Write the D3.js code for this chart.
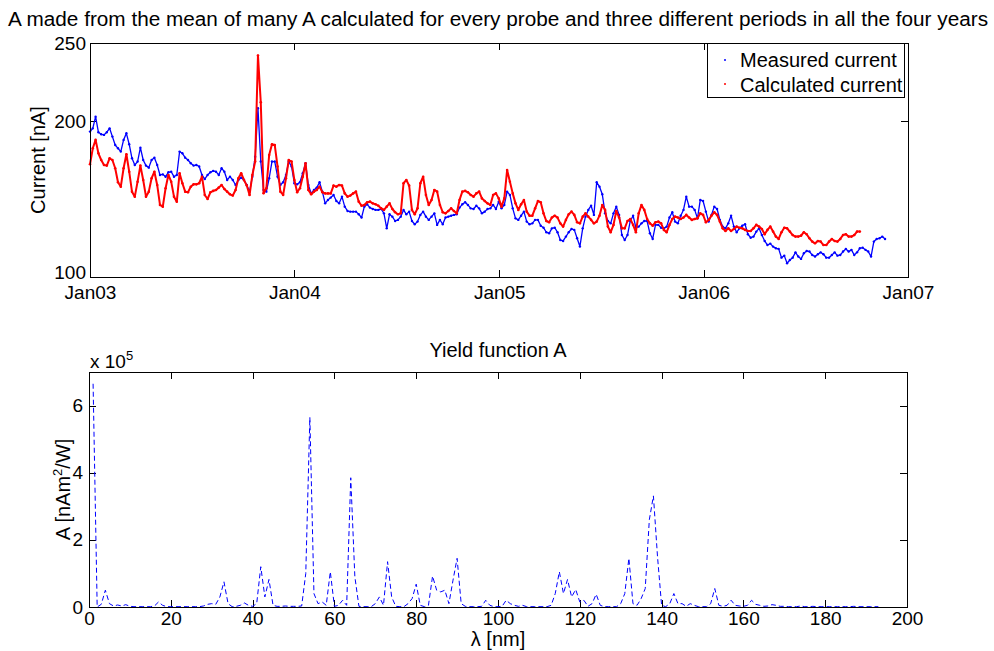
<!DOCTYPE html>
<html><head><meta charset="utf-8">
<script src="https://cdn.jsdelivr.net/npm/d3@7"></script>
<style>
body{margin:0;background:#fff}
text{font-family:"Liberation Sans",Arial,Helvetica,sans-serif;fill:#000}
</style>
</head><body>
<svg id="chart" width="994" height="651"></svg>
<script>
// ---------------- data ----------------
const titleText = "A made from the mean of many A calculated for every probe and three different periods in all the four years";
const seriesNames = ["Measured current", "Calculated current"];
const startDate = "2003-01-01";
const dayStep = 5; // one value every 5 days
const measured = [
193.2,195.3,202.8,192.8,191.5,191.1,192.8,195.3,190.0,184.6,
182.5,180.4,187.9,192.1,185.1,176.1,171.8,174.0,182.9,175.0,
171.4,170.1,175.0,176.5,171.8,165.4,165.8,164.3,167.1,167.5,
164.3,165.4,180.4,179.3,176.5,175.0,172.9,171.4,171.8,170.8,
165.4,162.8,165.4,167.1,168.0,167.5,165.4,169.7,167.5,162.2,
164.3,162.2,159.0,162.2,163.7,162.2,159.0,154.7,164.3,177.1,
208.2,174.0,155.8,154.7,163.3,174.0,174.0,164.3,159.0,160.7,
165.4,174.0,170.8,160.1,159.4,160.7,166.5,172.9,159.0,153.6,
155.8,157.3,160.7,154.7,147.2,149.4,150.9,152.6,148.7,147.2,
151.5,145.1,142.3,141.9,141.9,141.9,140.2,138.1,145.1,146.6,
144.5,143.6,143.0,143.0,143.6,140.8,131.2,140.2,138.7,135.9,
136.6,138.7,143.0,140.2,141.9,135.9,133.8,135.5,139.8,141.9,
138.7,136.6,138.7,140.8,133.4,136.6,133.8,138.1,138.7,139.3,
139.8,140.2,144.5,146.6,147.9,146.2,144.0,143.6,145.7,144.0,
140.8,141.9,143.6,144.0,146.2,143.6,148.3,144.0,146.2,154.7,
152.6,144.0,137.6,136.6,139.3,141.9,135.5,133.8,134.4,136.6,
136.6,132.9,131.6,128.7,128.0,131.2,131.6,128.7,123.7,123.1,
125.9,128.7,130.8,130.2,124.8,119.5,131.2,138.7,143.0,145.7,
139.8,160.7,157.9,153.0,140.8,135.9,134.4,140.8,145.1,139.8,
126.9,123.7,126.9,135.9,139.3,131.6,132.3,134.4,135.9,135.9,
128.0,124.4,133.4,133.4,131.6,131.2,132.3,138.1,141.5,135.5,
134.4,139.3,143.0,151.5,145.1,145.1,143.0,137.6,149.4,148.7,
141.9,135.5,139.8,145.1,143.6,136.6,132.3,131.2,134.4,139.3,
132.3,128.7,131.2,132.9,133.8,127.4,125.2,125.9,129.1,131.2,
126.9,123.1,120.5,121.4,119.5,118.4,118.0,112.4,113.7,108.8,
110.9,112.4,115.8,113.1,111.6,115.2,116.7,116.3,114.1,113.1,
114.6,115.8,114.6,112.4,112.4,114.1,115.8,113.7,114.1,116.3,
118.0,116.3,117.4,114.1,115.8,118.4,118.8,117.4,116.3,113.1,
122.7,124.4,124.8,125.9,124.4
];
const calculated = [
172.3,182.5,187.9,179.3,175.0,171.8,171.4,176.1,175.0,169.7,
160.7,157.9,169.7,178.7,167.5,154.7,151.5,161.1,171.4,162.2,
151.5,154.7,163.3,167.5,159.0,146.2,145.1,156.9,165.4,161.1,
151.5,148.3,166.5,160.1,154.7,154.3,157.9,159.4,159.4,160.1,
164.3,152.6,150.0,154.3,155.2,155.8,157.3,159.0,156.4,154.7,
153.0,152.2,155.8,163.3,166.5,162.2,158.6,152.6,165.4,174.0,
242.0,212.0,153.7,156.9,178.2,185.1,184.6,170.8,154.7,152.6,
163.3,175.0,174.0,162.2,154.3,156.9,164.3,172.9,155.8,153.0,
154.7,155.8,157.9,154.3,153.6,153.6,153.6,158.6,157.9,159.0,
158.6,153.6,151.5,152.2,153.6,154.7,148.3,145.7,146.2,147.9,
148.3,147.2,146.6,145.7,144.0,143.0,145.1,147.2,143.6,141.5,
140.2,140.8,160.1,162.2,158.6,143.0,140.2,144.0,160.1,164.3,
152.6,146.2,149.4,155.8,154.7,146.2,141.5,140.8,142.3,144.0,
142.3,140.8,149.4,154.7,155.2,154.3,152.6,151.5,153.6,154.7,
150.4,148.7,147.2,146.2,152.6,153.6,150.4,145.1,150.4,168.6,
161.1,153.6,147.2,143.0,146.6,149.4,141.9,139.3,139.3,144.0,
148.7,147.9,140.8,135.9,135.1,138.1,139.3,138.1,134.4,132.3,
136.6,140.2,141.9,139.8,135.1,134.4,138.7,140.8,138.7,136.6,
134.4,135.5,139.3,146.2,143.0,132.3,128.7,133.4,142.3,138.1,
131.2,131.2,135.9,137.2,133.4,128.7,140.8,146.2,143.0,137.2,
134.4,132.9,135.1,135.5,134.4,130.2,128.7,133.4,137.2,138.7,
138.1,137.2,138.1,139.8,138.1,136.6,137.2,137.6,140.8,139.8,
135.1,136.6,139.3,141.5,139.8,135.5,131.2,129.5,131.2,129.5,
130.8,132.3,131.6,131.2,130.2,129.5,129.5,131.2,133.4,132.3,
130.8,127.4,130.2,132.3,129.1,125.9,124.4,128.7,131.6,131.2,
129.1,126.9,125.9,125.9,126.5,128.7,127.4,124.8,122.7,121.6,
123.1,122.7,120.5,120.5,122.7,124.4,123.1,122.7,124.4,126.9,
127.4,125.9,125.9,126.9,129.1,129.1
];
const dateTicks = ["2003-01-01","2004-01-01","2005-01-01","2006-01-01","2007-01-01"];
const dateTickLabels = ["Jan03","Jan04","Jan05","Jan06","Jan07"];
const currentTicks = [100, 200, 250];
const currentDomain = [100, 250];

const yieldTitle = "Yield function A";
const lambdaStart = 1; // nm of first value, 1 nm step
const yieldA = [ // units of 1e5 nAm^2/W
6.65,0.00,0.08,0.50,0.10,0.03,0.06,0.03,0.07,0.02,
0.01,0.01,0.01,0.01,0.01,0.03,0.15,0.05,0.01,0.01,
0.01,0.01,0.01,0.01,0.01,0.01,0.01,0.03,0.08,0.10,
0.08,0.30,0.75,0.10,0.01,0.02,0.05,0.12,0.05,0.02,
0.10,1.20,0.30,0.82,0.05,0.02,0.02,0.03,0.02,0.02,
0.02,0.03,1.00,5.65,0.40,0.10,0.15,0.05,1.05,0.02,
0.05,0.20,0.05,3.85,0.90,0.02,0.01,0.01,0.01,0.10,
0.30,0.05,1.35,0.30,0.02,0.01,0.01,0.10,0.25,0.68,
0.05,0.01,0.05,0.92,0.50,0.45,0.50,0.10,0.80,1.45,
0.10,0.02,0.01,0.01,0.01,0.02,0.20,0.05,0.01,0.01,
0.02,0.20,0.10,0.05,0.02,0.05,0.01,0.01,0.01,0.01,
0.01,0.01,0.05,0.40,1.05,0.40,0.82,0.30,0.52,0.15,
0.20,0.02,0.10,0.38,0.05,0.01,0.01,0.01,0.01,0.10,
0.40,1.45,0.10,0.05,0.25,0.55,2.60,3.31,1.50,0.05,
0.01,0.10,0.40,0.10,0.10,0.02,0.10,0.05,0.01,0.01,
0.01,0.10,0.55,0.05,0.02,0.05,0.20,0.05,0.03,0.02,
0.05,0.20,0.08,0.05,0.02,0.03,0.07,0.05,0.02,0.02,
0.01,0.01,0.01,0.03,0.01,0.01,0.02,0.01,0.01,0.01,
0.01,0.01,0.01,0.01,0.01,0.01,0.02,0.01,0.01,0.01,
0.01,0.01,0.01
];
const lambdaTicks = [0,20,40,60,80,100,120,140,160,180,200];
const yieldTicks = [0,2,4,6];
const yieldDomain = [0, 7];
const lambdaDomain = [0, 200];

// ---------------- drawing ----------------
const svg = d3.select("#chart");
const parse = d3.utcParse("%Y-%m-%d");
const t0 = parse(startDate);
const measPts = measured.map((v,i)=>({t:d3.utcDay.offset(t0,i*dayStep), v})).filter(d=>d.v!=null);
const calcPts = calculated.map((v,i)=>({t:d3.utcDay.offset(t0,i*dayStep), v})).filter(d=>d.v!=null);

const P1 = {l:90, r:908, t:43, b:277};
const P2 = {l:89, r:907, t:372, b:607};

const x1 = d3.scaleUtc().domain([parse(dateTicks[0]), parse(dateTicks[dateTicks.length-1])]).range([P1.l, P1.r]);
const y1 = d3.scaleLinear().domain(currentDomain).range([P1.b, P1.t]);
const x2 = d3.scaleLinear().domain(lambdaDomain).range([P2.l, P2.r]);
const y2 = d3.scaleLinear().domain(yieldDomain).range([P2.b, P2.t]);

function styleAxis(g, fs){
  g.select(".domain").remove();
  g.selectAll(".tick line").attr("stroke","#000").attr("shape-rendering","crispEdges");
  g.selectAll(".tick text").attr("font-size",fs).attr("font-family",'"Liberation Sans",Arial,sans-serif').attr("fill","#000");
}
const TK = 7;

// ---- top panel ----
const tickDates = dateTicks.map(parse);
svg.append("g").attr("transform",`translate(0,${P1.b})`)
  .call(d3.axisBottom(x1).tickValues(tickDates).tickFormat((d,i)=>dateTickLabels[i]).tickSizeInner(-TK).tickSizeOuter(0).tickPadding(9))
  .call(g=>styleAxis(g,19));
svg.append("g").attr("transform",`translate(0,${P1.t})`)
  .call(d3.axisTop(x1).tickValues(tickDates).tickFormat("").tickSizeInner(-TK).tickSizeOuter(0))
  .call(g=>styleAxis(g,19));
svg.append("g").attr("transform",`translate(${P1.l},0)`)
  .call(d3.axisLeft(y1).tickValues(currentTicks).tickFormat(d3.format("d")).tickSizeInner(-TK).tickSizeOuter(0).tickPadding(4))
  .call(g=>styleAxis(g,19))
  .call(g=>g.selectAll(".tick text").filter(d=>d===currentDomain[0]).attr("dy","0.1em"));
svg.append("g").attr("transform",`translate(${P1.r},0)`)
  .call(d3.axisRight(y1).tickValues(currentTicks).tickFormat("").tickSizeInner(-TK).tickSizeOuter(0))
  .call(g=>styleAxis(g,19));

const plot1 = svg.append("g");
const line1 = d3.line().x(d=>x1(d.t)).y(d=>y1(d.v));
plot1.append("path").datum(measPts).attr("d",line1).attr("fill","none")
  .attr("stroke","#0000ff").attr("stroke-width",1.3).attr("stroke-linejoin","round");
plot1.selectAll("circle.m").data(measPts).join("circle").attr("class","m")
  .attr("cx",d=>x1(d.t)).attr("cy",d=>y1(d.v)).attr("r",1.2).attr("fill","#0000ff");
plot1.append("path").datum(calcPts).attr("d",line1).attr("fill","none")
  .attr("stroke","#ff0000").attr("stroke-width",2).attr("stroke-linejoin","round");
plot1.selectAll("circle.c").data(calcPts).join("circle").attr("class","c")
  .attr("cx",d=>x1(d.t)).attr("cy",d=>y1(d.v)).attr("r",1.3).attr("fill","#ff0000");

svg.append("rect").attr("x",P1.l+0.5).attr("y",P1.t+0.5).attr("width",P1.r-P1.l).attr("height",P1.b-P1.t)
  .attr("fill","none").attr("stroke","#000").attr("stroke-width",1);

svg.append("text").attr("x",498).attr("y",26).attr("text-anchor","middle").attr("font-size",20)
  .attr("textLength",980).attr("lengthAdjust","spacingAndGlyphs").text(titleText);
svg.append("text").attr("transform",`translate(45,${(P1.t+P1.b)/2}) rotate(-90)`).attr("text-anchor","middle")
  .attr("font-size",20).text("Current [nA]");

// legend
const lg = svg.append("g");
lg.append("rect").attr("x",707.5).attr("y",43.5).attr("width",197).attr("height",54).attr("fill","#fff").attr("stroke","#000");
const legColors = ["#0000ff","#ff0000"];
seriesNames.forEach((n,i)=>{
  lg.append("circle").attr("cx",725).attr("cy",60+24*i).attr("r",1).attr("fill",legColors[i]);
  lg.append("text").attr("x",740).attr("y",67+25*i).attr("font-size",20).text(n);
});

// ---- bottom panel ----
svg.append("g").attr("transform",`translate(0,${P2.b})`)
  .call(d3.axisBottom(x2).tickValues(lambdaTicks).tickFormat(d3.format("d")).tickSizeInner(-TK).tickSizeOuter(0).tickPadding(5))
  .call(g=>styleAxis(g,19));
svg.append("g").attr("transform",`translate(0,${P2.t})`)
  .call(d3.axisTop(x2).tickValues(lambdaTicks).tickFormat("").tickSizeInner(-TK).tickSizeOuter(0))
  .call(g=>styleAxis(g,19));
svg.append("g").attr("transform",`translate(${P2.l},0)`)
  .call(d3.axisLeft(y2).tickValues(yieldTicks).tickFormat(d3.format("d")).tickSizeInner(-TK).tickSizeOuter(0).tickPadding(6))
  .call(g=>styleAxis(g,19));
svg.append("g").attr("transform",`translate(${P2.r},0)`)
  .call(d3.axisRight(y2).tickValues(yieldTicks).tickFormat("").tickSizeInner(-TK).tickSizeOuter(0))
  .call(g=>styleAxis(g,19));

const yPts = yieldA.map((v,i)=>({nm:lambdaStart+i, v}));
svg.append("path").datum(yPts)
  .attr("d", d3.line().x(d=>x2(d.nm)).y(d=>y2(d.v)))
  .attr("fill","none").attr("stroke","#0000ff").attr("stroke-width",1).attr("stroke-dasharray","5,3");

svg.append("rect").attr("x",P2.l+0.5).attr("y",P2.t+0.5).attr("width",P2.r-P2.l).attr("height",P2.b-P2.t)
  .attr("fill","none").attr("stroke","#000").attr("stroke-width",1);

svg.append("text").attr("x",(P2.l+P2.r)/2).attr("y",357).attr("text-anchor","middle").attr("font-size",20).text(yieldTitle);
const ex = svg.append("text").attr("x",90).attr("y",368).attr("font-size",19);
ex.append("tspan").text("x 10");
ex.append("tspan").attr("dy",-8).attr("font-size",13).text("5");

const yl = svg.append("text").attr("transform",`translate(70,${(P2.t+P2.b)/2}) rotate(-90)`).attr("text-anchor","middle").attr("font-size",20);
yl.append("tspan").text("A [nAm");
yl.append("tspan").attr("dy",-8).attr("font-size",13).text("2");
yl.append("tspan").attr("dy",8).text("/W]");

svg.append("text").attr("x",(P2.l+P2.r)/2).attr("y",646).attr("text-anchor","middle").attr("font-size",20).text("λ [nm]");
</script>
</body></html>
